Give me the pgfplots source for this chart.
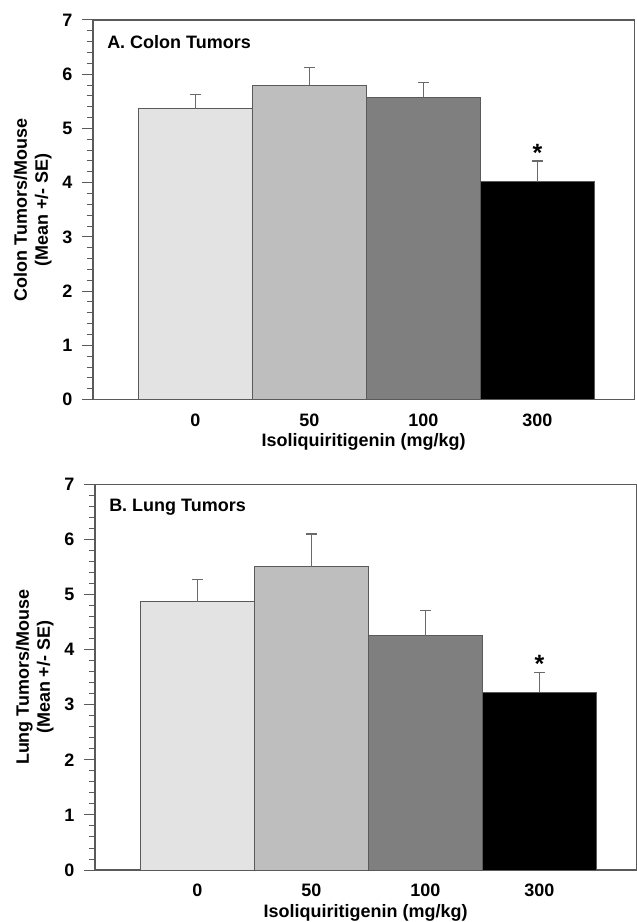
\documentclass[border=0pt]{standalone}
\usepackage{fontspec}
\setmainfont{Liberation Sans}
\usepackage{pgfplots}
\pgfplotsset{compat=1.18}

\definecolor{barA}{HTML}{E3E3E3}
\definecolor{barB}{HTML}{BEBEBE}
\definecolor{barC}{HTML}{7F7F7F}
\definecolor{barD}{HTML}{000000}
\definecolor{axgray}{HTML}{5A5A5A}
\definecolor{errgray}{HTML}{6A6A6A}

\pgfplotsset{
  panel/.style={
    scale only axis,
    width=542pt,
    font=\bfseries\fontsize{18}{21}\selectfont,
    /pgf/number format/assume math mode=true,
    axis line style={axgray, line width=1.3pt},
    xmin=-0.9, xmax=3.85,
    ymin=0, ymax=7,
    ytick={0,1,...,7},
    minor y tick num=4,
    ytick pos=left,
    tick align=outside,
    major tick length=11pt,
    minor tick length=6pt,
    every tick/.style={axgray, line width=1pt},
    yticklabel style={xshift=-6pt},
    xtick={0,1,2,3},
    xticklabels={0,50,100,300},
    x tick style={draw=none},
    xticklabel style={yshift=-1pt, inner sep=2pt},
    xlabel={Isoliquiritigenin (mg/kg)},
    xlabel style={yshift=-4pt, inner sep=1pt},
    ylabel style={align=center, yshift=4pt},
    ybar, bar width=1, bar shift=0pt,
    error bars/y dir=plus,
    error bars/y explicit,
    error bars/error bar style={errgray, line width=1.2pt},
    error bars/error mark options={rotate=90, mark size=5.5pt, errgray, line width=1.2pt},
  },
  barstyle/.style={draw=axgray, line width=0.9pt, fill=#1},
}

\begin{document}
\begin{tikzpicture}
\path (-93pt,-522pt) rectangle (543pt,400pt);

\begin{axis}[panel, height=380pt, at={(0pt,0pt)},
  ylabel={Colon Tumors/Mouse\\(Mean +/- SE)}]
\addplot[barstyle=barA] coordinates {(0,5.36) +- (0,0.26)};
\addplot[barstyle=barB] coordinates {(1,5.80) +- (0,0.32)};
\addplot[barstyle=barC] coordinates {(2,5.58) +- (0,0.27)};
\addplot[barstyle=barD] coordinates {(3,4.02) +- (0,0.38)};
\node[anchor=west] at (rel axis cs:0.02,0.942) {A. Colon Tumors};
\node[font=\bfseries\fontsize{25}{25}\selectfont] at (axis cs:3,4.55) {*};
\end{axis}

\begin{axis}[panel, height=386pt, at={(2pt,-471pt)},
  ylabel={Lung Tumors/Mouse\\(Mean +/- SE)}]
\addplot[barstyle=barA] coordinates {(0,4.87) +- (0,0.41)};
\addplot[barstyle=barB] coordinates {(1,5.51) +- (0,0.59)};
\addplot[barstyle=barC] coordinates {(2,4.25) +- (0,0.46)};
\addplot[barstyle=barD] coordinates {(3,3.23) +- (0,0.35)};
\node[anchor=west] at (rel axis cs:0.02,0.942) {B. Lung Tumors};
\node[font=\bfseries\fontsize{25}{25}\selectfont] at (axis cs:3,3.75) {*};
\end{axis}
\end{tikzpicture}
\end{document}
